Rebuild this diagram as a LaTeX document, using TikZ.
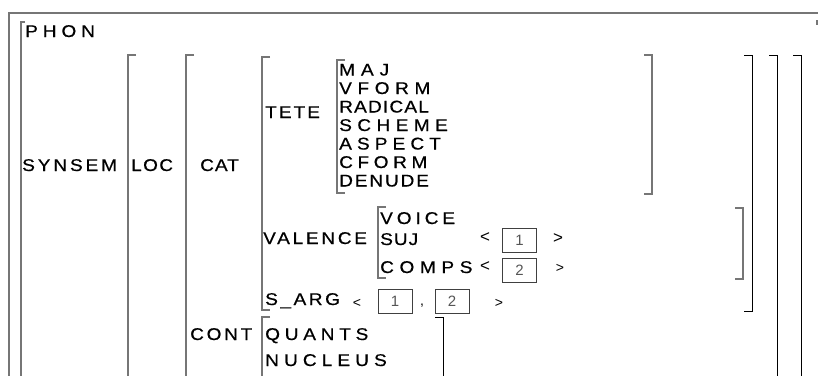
\documentclass[tikz,border=0pt]{standalone}
\usepackage{fontspec}
\setmainfont{Liberation Sans}
\usetikzlibrary{positioning}
\definecolor{rulegray}{RGB}{118,118,118}
\definecolor{numgray}{RGB}{85,85,85}
\newcommand{\lsp}[1]{\fontsize{17}{19}\selectfont\addfontfeatures{LetterSpace=#1, FakeBold=0.6, FakeStretch=1.12}}

\begin{document}
\begin{tikzpicture}[x=1pt, y=-1pt,
  feat/.style={font=\lsp{#1}, anchor=west, inner sep=0pt, text height=12pt, text depth=0pt},
  feat/.default=20,
  brk/.style={draw=rulegray, line width=1.3pt},
  brkd/.style={draw=black, line width=0.9pt},
  tag/.style={draw=black!75, line width=0.6pt, minimum width=34pt, minimum height=24pt, inner sep=0pt, font=\fontsize{15}{15}\selectfont, text=numgray},
  ang/.style={inner sep=0pt, font=\fontsize{17}{17}\selectfont},
  angs/.style={inner sep=0pt, font=\fontsize{14}{14}\selectfont}]
\useasboundingbox (0,0) rectangle (818,376);
% outer frame
\draw[brk] (818,13) -- (9,13) -- (9,376);
\draw[brk] (817,20) -- (817,25);
% top level
\draw[brk] (25,22) -| (21,376);
\node[feat=29] (phon) at (25,31) {PHON};
\node[feat=17] (synsem) at (22,165) {SYNSEM};
% synsem and loc values
\draw[brk] (136,55) -| (128,376);
\draw[brkd] (793,55) -| (801,376);
\node[feat=8] (loc) at (131,165) {LOC};
\draw[brk] (194,55) -| (186,376);
\draw[brkd] (769,55) -| (777,376);
\node[feat=6] (cat) at (200,165) {CAT};
% cat value
\draw[brk] (270,57) -| (262,310) -- (270,310);
\draw[brkd] (744,55) -| (752,311) -- (744,311);
\node[feat=12] (tete) at (265,112) {TETE};
\draw[brk] (345,60) -| (337,193) -- (345,193);
\draw[brk] (644,55) -| (652,194) -- (644,194);
\foreach \w/\s [count=\i] in {MAJ/35, VFORM/33, RADICAL/7, SCHEME/32, ASPECT/30, CFORM/27, DENUDE/11}
  \node[feat=\s] (head\i) at (339,51+18.5*\i) {\w};
% valence
\node[feat=16] (val) at (263,238) {VALENCE};
\draw[brk] (386,207) -| (378,278) -- (386,278);
\draw[brk] (735,208) -| (743,279) -- (735,279);
\node[feat=23] (voice) at (380,218) {VOICE};
\node[feat=6] (suj) at (380,239) {SUJ};
\node[feat=33] (comps) at (380,267) {COMPS};
\node[ang] (sujl) at (485,238) {<};
\node[tag] (suj1) at (519.5,240.5) {1};
\node[ang] (sujr) at (558,239) {>};
\node[ang] (compsl) at (485,267) {<};
\node[tag] (comps2) at (519.5,270) {2};
\node[angs] (compsr) at (560,268) {>};
% s_arg
\node[feat=15] (sarg) at (265,299) {S\_ARG};
\node[angs] (sargl) at (357,303) {<};
\node[tag] (sarg1) at (395,301.5) {1};
\node[angs] (comma) at (422,306) {,};
\node[tag] (sarg2) at (452,301.5) {2};
\node[angs] (sargr) at (499,303) {>};
% cont
\node[feat=16] (cont) at (190,334) {CONT};
\draw[brk] (270,317) -| (262,376);
\draw[brkd] (435,317) -| (443,376);
\node[feat=28] (quants) at (265,334) {QUANTS};
\node[feat=30] (nucleus) at (265,360) {NUCLEUS};
\end{tikzpicture}
\end{document}
